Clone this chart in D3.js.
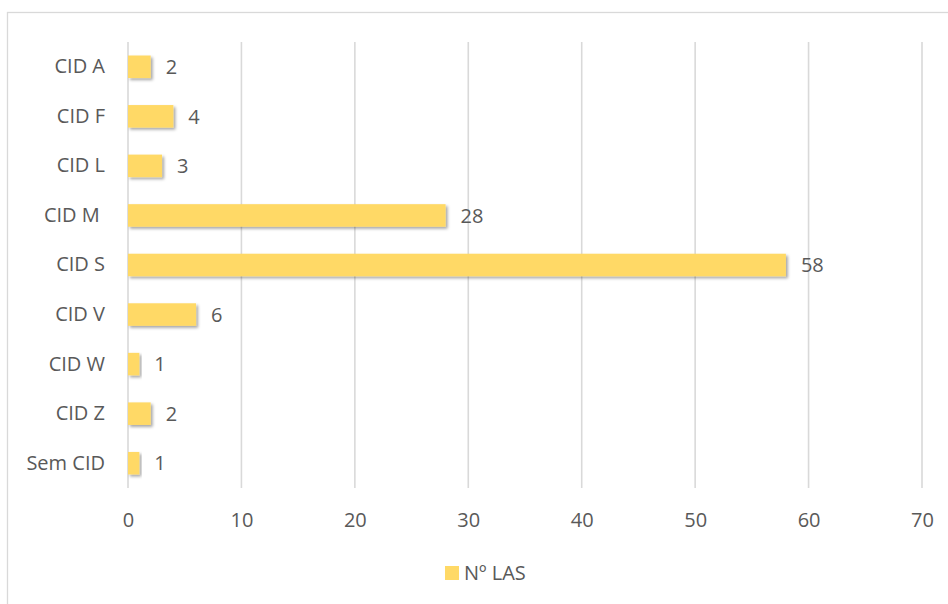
<!DOCTYPE html>
<html>
<head>
<meta charset="utf-8">
<script src="https://cdn.jsdelivr.net/npm/d3@7"></script>
<style>
	body { margin: 0; background: #fff; }
	svg text { font-family: "Open Sans", sans-serif; fill: #595959; white-space: pre; }
</style>
</head>
<body>
<div id="chart"></div>
<script>
// data
const categories = ['CID A', 'CID F', 'CID L', 'CID M ', 'CID S', 'CID V', 'CID W', 'CID Z', 'Sem CID'];
const values = [2, 4, 3, 28, 58, 6, 1, 2, 1];
const xTicks = [0, 10, 20, 30, 40, 50, 60, 70];
const seriesName = 'Nº LAS';

const w = 948;
const h = 604;
const barColor = '#ffd966';
const gridColor = '#d9d9d9';
const fontSize = '20px';

const svg = d3.select('#chart')
	.append('svg')
	.attr('width', w)
	.attr('height', h);

// shadow under the bars
const defs = svg.append('defs');
defs.append('filter')
	.attr('id', 'shadow')
	.attr('x', '-20%').attr('y', '-40%')
	.attr('width', '140%').attr('height', '200%')
	.append('feDropShadow')
	.attr('dx', 2).attr('dy', 2)
	.attr('stdDeviation', 1.6)
	.attr('flood-color', '#000')
	.attr('flood-opacity', 0.35);

// chart area border
svg.append('rect')
	.attr('x', 7.5).attr('y', 12.5)
	.attr('width', w).attr('height', h)
	.attr('fill', 'none')
	.attr('stroke', gridColor)
	.attr('stroke-width', 1.3);

const x = d3.scaleLinear().domain([0, 70]).range([128, 922]);
const y = d3.scaleBand().domain(categories).range([42, 488]).paddingInner(0.545).paddingOuter(0.2725);

// gridlines
svg.selectAll('line.grid')
	.data(xTicks)
	.enter()
	.append('line')
	.attr('class', 'grid')
	.attr('x1', d => x(d)).attr('x2', d => x(d))
	.attr('y1', 42).attr('y2', 488)
	.attr('stroke', gridColor)
	.attr('stroke-width', 1.6);

// x axis labels
const xAxis = d3.axisBottom(x).tickValues(xTicks).tickSize(0).tickPadding(0);
const gx = svg.append('g').attr('transform', 'translate(0,509)').call(xAxis);
gx.select('.domain').remove();
gx.selectAll('text')
	.attr('font-size', fontSize)
	.attr('dy', '0.88em')
	.style('font-family', '"Open Sans", sans-serif')
	.style('fill', '#595959');

// y axis labels
const yAxis = d3.axisLeft(y).tickSize(0).tickPadding(23);
const gy = svg.append('g').attr('transform', 'translate(128,0)').call(yAxis);
gy.select('.domain').remove();
gy.selectAll('text')
	.attr('font-size', fontSize)
	.style('font-family', '"Open Sans", sans-serif')
	.style('fill', '#595959');

// bars
svg.selectAll('rect.bar')
	.data(values)
	.enter()
	.append('rect')
	.attr('class', 'bar')
	.attr('x', x(0))
	.attr('y', (d, i) => y(categories[i]))
	.attr('width', d => x(d) - x(0))
	.attr('height', y.bandwidth())
	.attr('fill', barColor)
	.attr('filter', 'url(#shadow)');

// value labels
svg.selectAll('text.value')
	.data(values)
	.enter()
	.append('text')
	.attr('class', 'value')
	.attr('x', d => x(d) + 15)
	.attr('y', (d, i) => y(categories[i]) + y.bandwidth() / 2)
	.attr('dy', '0.36em')
	.attr('font-size', fontSize)
	.text(d => d);

// legend
const legend = svg.append('g').attr('transform', 'translate(445,566)');
legend.append('rect')
	.attr('width', 14).attr('height', 14)
	.attr('fill', barColor);
legend.append('text')
	.attr('x', 19).attr('y', 7)
	.attr('dy', '0.36em')
	.attr('font-size', fontSize)
	.text(seriesName);
</script>
</body>
</html>
